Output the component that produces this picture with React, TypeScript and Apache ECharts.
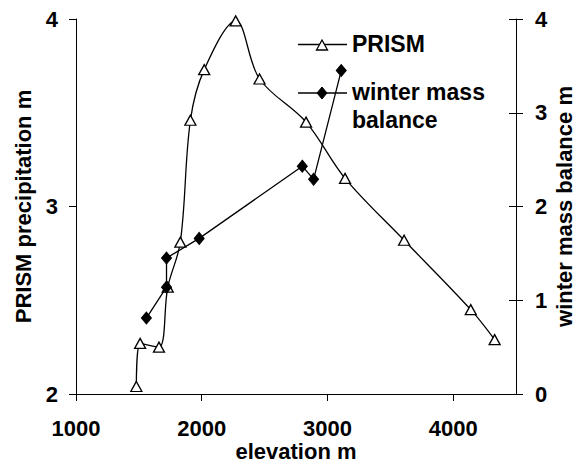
import React, { useEffect, useRef } from "react";
import * as echarts from "echarts";

const prismElevation = [1480, 1510, 1660, 1730, 1830, 1910, 2020, 2270, 2460, 2830, 3140, 3610, 4140, 4330];
const prismPrecip = [2.04, 2.27, 2.25, 2.57, 2.81, 3.46, 3.73, 3.99, 3.68, 3.45, 3.15, 2.82, 2.45, 2.29];
const wmbElevation = [1560, 1720, 1720, 1980, 2800, 2890, 3110];
const wmbValue = [0.81, 1.14, 1.45, 1.66, 2.43, 2.29, 3.45];
const xTicks = [1000, 2000, 3000, 4000];
const seriesNames = ["PRISM", "winter mass balance"];
const legendLabels = ["PRISM", "winter mass", "balance"];

const FONT = "'Liberation Sans', Arial, sans-serif";

export default function App() {
  const ref = useRef<HTMLDivElement>(null);
  useEffect(() => {
    if (!ref.current) return;
    const chart = echarts.init(ref.current, null, { renderer: "svg" });
    const prismData = prismElevation.map((x, i) => [x, prismPrecip[i]]);
    const wmbData = wmbElevation.map((x, i) => [x, wmbValue[i]]);
    const black = "#000";
    const tickLabel = { color: black, fontFamily: FONT, fontWeight: "bold" as const, fontSize: 22 };
    const titleStyle = { color: black, fontFamily: FONT, fontWeight: "bold" as const, fontSize: 22 };
    chart.setOption({
      animation: false,
      backgroundColor: "#fff",
      grid: { left: 76, right: 61, top: 19, bottom: 71, containLabel: false, outerBoundsMode: "none" },
      xAxis: {
        type: "value",
        min: 1000,
        max: 4500,
        interval: 1000,
        name: "elevation m",
        nameLocation: "middle",
        nameGap: 46,
        nameMoveOverlap: false,
        nameTextStyle: titleStyle,
        axisLine: { show: true, lineStyle: { color: black, width: 1 } },
        axisTick: { show: true, inside: false, length: 7, customValues: xTicks, lineStyle: { color: black } },
        axisLabel: { ...tickLabel, margin: 23, customValues: xTicks, formatter: (v: number) => String(v) },
        splitLine: { show: false },
      },
      yAxis: [
        {
          type: "value",
          min: 2,
          max: 4,
          interval: 1,
          position: "left",
          name: "PRISM precipitation m",
          nameLocation: "middle",
          nameGap: 42,
          nameMoveOverlap: false,
          nameRotate: 90,
          nameTextStyle: titleStyle,
          axisLine: { show: true, lineStyle: { color: black, width: 1 } },
          axisTick: { show: true, inside: false, length: 7, lineStyle: { color: black } },
          axisLabel: { ...tickLabel, margin: 18 },
          splitLine: { show: false },
        },
        {
          type: "value",
          min: 0,
          max: 4,
          interval: 1,
          position: "right",
          name: "winter mass balance m",
          nameLocation: "middle",
          nameGap: 37,
          nameMoveOverlap: false,
          nameRotate: 90,
          nameTextStyle: titleStyle,
          axisLine: { show: true, lineStyle: { color: black, width: 1 } },
          axisTick: { show: true, inside: false, length: 7, lineStyle: { color: black } },
          axisLabel: { ...tickLabel, margin: 19 },
          splitLine: { show: false },
        },
        {
          type: "value",
          min: 0,
          max: 4,
          interval: 1,
          position: "right",
          axisLine: { show: false },
          axisTick: { show: true, inside: true, length: 7, lineStyle: { color: black } },
          axisLabel: { show: false },
          splitLine: { show: false },
        },
      ],
      series: [
        {
          name: seriesNames[0],
          type: "line",
          yAxisIndex: 0,
          data: prismData,
          smooth: 0.35,
          symbol: "triangle",
          symbolSize: [11, 10],
          lineStyle: { color: black, width: 1.3 },
          itemStyle: { color: "#fff", borderColor: black, borderWidth: 1.3 },
          z: 3,
        },
        {
          name: seriesNames[1],
          type: "line",
          yAxisIndex: 1,
          data: wmbData,
          smooth: false,
          symbol: "diamond",
          symbolSize: [10, 12],
          lineStyle: { color: black, width: 1.3 },
          itemStyle: { color: black, borderColor: black, borderWidth: 1 },
          z: 4,
        },
      ],
      graphic: [
        { type: "line", shape: { x1: 298, y1: 44.5, x2: 347, y2: 44.5 }, style: { stroke: black, lineWidth: 1.3 } },
        {
          type: "polygon",
          shape: { points: [[322, 40], [327.5, 50], [316.5, 50]] },
          style: { fill: "#fff", stroke: black, lineWidth: 1.3 },
        },
        {
          type: "text",
          x: 352,
          y: 44,
          style: { text: legendLabels[0], fill: black, font: `bold 23px ${FONT}`, verticalAlign: "middle", align: "left" },
        },
        { type: "line", shape: { x1: 298, y1: 93, x2: 347, y2: 93 }, style: { stroke: black, lineWidth: 1.3 } },
        {
          type: "polygon",
          shape: { points: [[322, 87], [327, 93], [322, 99], [317, 93]] },
          style: { fill: black, stroke: black, lineWidth: 1 },
        },
        {
          type: "text",
          x: 352,
          y: 92,
          style: { text: legendLabels[1], fill: black, font: `bold 23px ${FONT}`, verticalAlign: "middle", align: "left" },
        },
        {
          type: "text",
          x: 352,
          y: 120,
          style: { text: legendLabels[2], fill: black, font: `bold 23px ${FONT}`, verticalAlign: "middle", align: "left" },
        },
      ],
    });
    return () => chart.dispose();
  }, []);
  return (
    <div
      ref={ref}
      style={{ position: "fixed", left: 0, top: 0, width: 577, height: 465, background: "#fff" }}
    />
  );
}
